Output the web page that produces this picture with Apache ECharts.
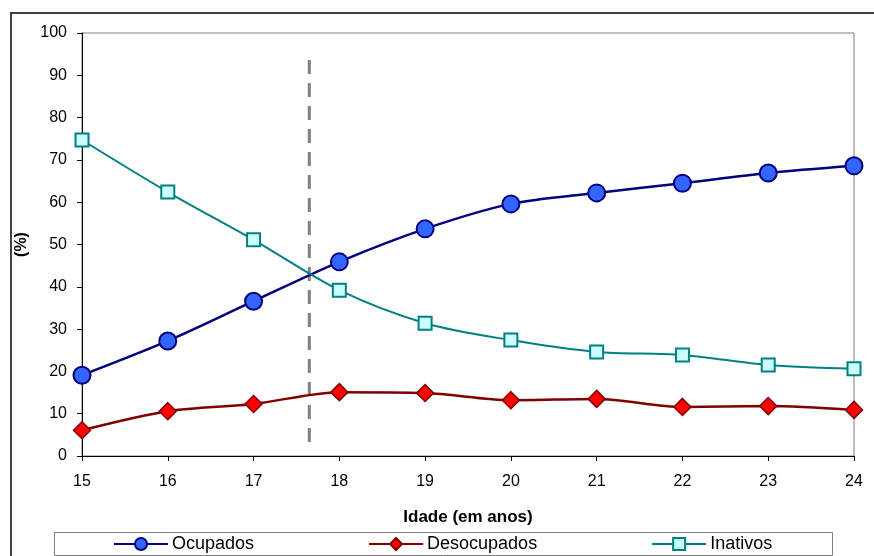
<!DOCTYPE html>
<html>
<head>
<meta charset="utf-8">
<script src="https://cdn.jsdelivr.net/npm/echarts@6/dist/echarts.min.js"></script>
<style>
  html, body { margin: 0; padding: 0; background: #fff; }
  #chart { width: 874px; height: 556px; }
</style>
</head>
<body>
<div id="chart"></div>
<script>
// Ages on the horizontal axis
var idades = [15, 16, 17, 18, 19, 20, 21, 22, 23, 24];

// Share of each group by age (%)
var ocupados    = [19.1, 27.2, 36.6, 45.9, 53.7, 59.6, 62.2, 64.5, 66.9, 68.6];
var desocupados = [6.1, 10.6, 12.3, 15.1, 14.9, 13.2, 13.5, 11.6, 11.8, 10.9];
var inativos    = [74.7, 62.4, 51.1, 39.2, 31.4, 27.4, 24.6, 23.9, 21.5, 20.6];

// Vertical reference line (age position and vertical span)
var corteIdade = 17.65;
var corteFaixa = [93.6, 2.6];

var yTicks = [0, 10, 20, 30, 40, 50, 60, 70, 80, 90, 100];

function pares(vals) {
  return idades.map(function (a, i) { return [a, vals[i]]; });
}

var font = 'Liberation Sans, Arial, sans-serif';
var chart = echarts.init(document.getElementById('chart'));

chart.setOption({
  backgroundColor: '#ffffff',
  animation: false,
  textStyle: { fontFamily: font },
  grid: {
    left: 82, right: 20, top: 33, bottom: 100,
    show: true, borderColor: '#808080', borderWidth: 1, backgroundColor: 'transparent'
  },
  xAxis: {
    type: 'value',
    min: idades[0], max: idades[idades.length - 1], interval: 1,
    name: 'Idade (em anos)', nameLocation: 'middle', nameGap: 53,
    nameTextStyle: { fontFamily: font, fontSize: 17, fontWeight: 'bold', color: '#000' },
    axisLine: { show: true, onZero: false, lineStyle: { color: '#000', width: 1 } },
    axisTick: { show: true, inside: false, length: 5, lineStyle: { color: '#000' } },
    axisLabel: { fontFamily: font, fontSize: 16, color: '#000', margin: 18 },
    splitLine: { show: false }
  },
  yAxis: {
    type: 'value',
    min: yTicks[0], max: yTicks[yTicks.length - 1], interval: 10,
    name: '(%)', nameLocation: 'middle', nameGap: 44, nameRotate: 90,
    nameTextStyle: { fontFamily: font, fontSize: 16, fontWeight: 'bold', color: '#000' },
    axisLine: { show: true, lineStyle: { color: '#000', width: 1 } },
    axisTick: { show: true, inside: false, length: 5, lineStyle: { color: '#000' } },
    axisLabel: { fontFamily: font, fontSize: 16, color: '#000', margin: 15 },
    splitLine: { show: false }
  },
  legend: {
    left: 113, top: 535,
    itemWidth: 54, itemHeight: 15, itemGap: 114,
    padding: 0,
    textStyle: { fontFamily: font, fontSize: 18, color: '#000', padding: [0, 0, 0, -1] },
    data: ['Ocupados', 'Desocupados', 'Inativos']
  },
  graphic: [
    {
      type: 'rect', silent: true, z: -1,
      shape: { x: 11, y: 13, width: 900, height: 600 },
      style: { fill: 'none', stroke: '#404040', lineWidth: 2 }
    },
    {
      type: 'rect', silent: true,
      shape: { x: 54.5, y: 532.5, width: 778, height: 23 },
      style: { fill: 'none', stroke: '#808080', lineWidth: 1 }
    }
  ],
  series: [
    {
      name: 'corte', type: 'line', silent: true, symbol: 'none',
      data: corteFaixa.map(function (v) { return [corteIdade, v]; }),
      lineStyle: { color: '#808080', width: 3, type: [14, 9] },
      z: 1
    },
    {
      name: 'Ocupados', type: 'line', smooth: 0.3,
      data: pares(ocupados),
      symbol: 'circle', symbolSize: 17,
      lineStyle: { color: '#000080', width: 2.5 },
      itemStyle: { color: '#3366FF', borderColor: '#000080', borderWidth: 2 },
      z: 3
    },
    {
      name: 'Desocupados', type: 'line', smooth: 0.3,
      data: pares(desocupados),
      symbol: 'diamond', symbolSize: 17,
      lineStyle: { color: '#800000', width: 2.5 },
      itemStyle: { color: '#FF0000', borderColor: '#800000', borderWidth: 1.5 },
      z: 3
    },
    {
      name: 'Inativos', type: 'line', smooth: 0.3,
      data: pares(inativos),
      symbol: 'rect', symbolSize: 13,
      lineStyle: { color: '#008080', width: 2 },
      itemStyle: { color: '#CCFFFF', borderColor: '#008080', borderWidth: 2 },
      z: 3
    }
  ]
});
</script>
</body>
</html>
